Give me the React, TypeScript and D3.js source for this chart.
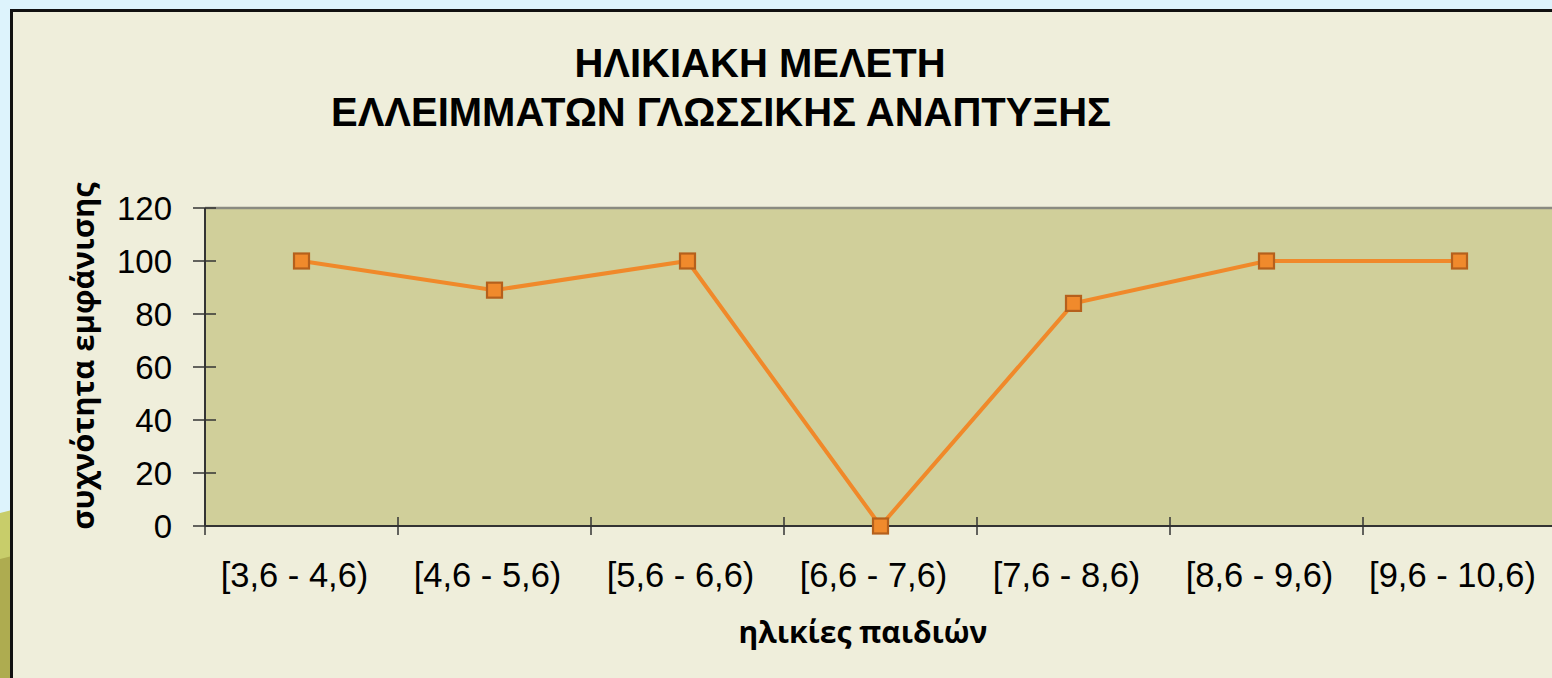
import React from 'react';
import * as d3 from 'd3';

// chart data
const ageGroups = ['[3,6 - 4,6)', '[4,6 - 5,6)', '[5,6 - 6,6)', '[6,6 - 7,6)', '[7,6 - 8,6)', '[8,6 - 9,6)', '[9,6 - 10,6)'];
const frequency = [100, 89, 100, 0, 84, 100, 100];
const yTicks = [0, 20, 40, 60, 80, 100, 120];
const titleLines = ['ΗΛΙΚΙΑΚΗ ΜΕΛΕΤΗ', 'ΕΛΛΕΙΜΜΑΤΩΝ ΓΛΩΣΣΙΚΗΣ ΑΝΑΠΤΥΞΗΣ'];
const xTitle = 'ηλικίες παιδιών';
const yTitle = 'συχνότητα εμφάνισης';

const W = 1552;
const H = 678;
const plot = { left: 205, top: 208, bottom: 526, band: 193 };

const App = () => {
  const x = d3
    .scaleBand<string>()
    .domain(ageGroups)
    .range([plot.left, plot.left + plot.band * ageGroups.length]);

  const y = d3.scaleLinear().domain([0, 120]).range([plot.bottom, plot.top]);

  const line = d3
    .line<number>()
    .x((_, i) => (x(ageGroups[i]) as number) + x.bandwidth() / 2)
    .y((d) => y(d));

  const boundaries = ageGroups.map((c) => x(c) as number).concat(x.range()[1]);

  return (
    <svg width={W} height={H} style={{ position: 'absolute', left: 0, top: 0, display: 'block' }}>
      {/* page background and decoration */}
      <rect x={0} y={0} width={W} height={H} fill="#DDF3FC" />
      <path d="M0,513 L12,510 L12,678 L0,678 Z" fill="#C8CD6A" />
      <path d="M0,559 L12,556 L12,678 L0,678 Z" fill="#AEAC50" />

      {/* chart frame */}
      <rect x={11.5} y={10.5} width={W + 20} height={H + 20} fill="#EFEEDB" stroke="#111" strokeWidth={3} />

      {/* title */}
      <g fontFamily="'Liberation Sans', Arial, sans-serif" fontWeight="bold" fontSize={40} fill="#000" textAnchor="middle">
        <text x={760} y={77}>{titleLines[0]}</text>
        <text x={721} y={126}>{titleLines[1]}</text>
      </g>

      {/* plot area */}
      <rect x={plot.left} y={plot.top} width={W - plot.left + 10} height={plot.bottom - plot.top} fill="#D0CF9A" />
      <line x1={plot.left} x2={W} y1={plot.top} y2={plot.top} stroke="#8a8a80" strokeWidth={2.5} />

      {/* y axis */}
      <line x1={plot.left} x2={plot.left} y1={plot.top} y2={plot.bottom} stroke="#333" strokeWidth={2} />
      {yTicks.map((t) => (
        <g key={t}>
          <line x1={193} x2={216} y1={y(t)} y2={y(t)} stroke="#333" strokeWidth={1.5} />
          <text
            x={172}
            y={y(t) + 12}
            textAnchor="end"
            fontFamily="'Liberation Sans', Arial, sans-serif"
            fontSize={33}
            fill="#000"
          >
            {t}
          </text>
        </g>
      ))}

      {/* x axis */}
      <line x1={plot.left} x2={W} y1={plot.bottom} y2={plot.bottom} stroke="#333" strokeWidth={2} />
      {boundaries.map((b, i) => (
        <line key={i} x1={b} x2={b} y1={517} y2={535} stroke="#333" strokeWidth={1.5} />
      ))}
      {ageGroups.map((c) => (
        <text
          key={c}
          x={(x(c) as number) + x.bandwidth() / 2 - 7}
          y={587}
          textAnchor="middle"
          fontFamily="'Liberation Sans', Arial, sans-serif"
          fontSize={34.5}
          fill="#000"
        >
          {c}
        </text>
      ))}

      {/* axis titles */}
      <text
        x={863}
        y={643}
        textAnchor="middle"
        fontFamily="'Open Sans', 'DejaVu Sans', sans-serif"
        fontWeight="bold"
        fontSize={30}
        fill="#000"
      >
        {xTitle}
      </text>
      <text
        transform={`translate(94,${356}) rotate(-90)`}
        textAnchor="middle"
        fontFamily="'Open Sans', 'DejaVu Sans', sans-serif"
        fontWeight="bold"
        fontSize={31}
        fill="#000"
      >
        {yTitle}
      </text>

      {/* series */}
      <path d={line(frequency) || ''} fill="none" stroke="#F0892A" strokeWidth={4} />
      {frequency.map((v, i) => (
        <rect
          key={i}
          x={(x(ageGroups[i]) as number) + x.bandwidth() / 2 - 7.5}
          y={y(v) - 7.5}
          width={15}
          height={15}
          fill="#F08A2C"
          stroke="#B5601C"
          strokeWidth={2.2}
        />
      ))}
    </svg>
  );
};

export default App;
